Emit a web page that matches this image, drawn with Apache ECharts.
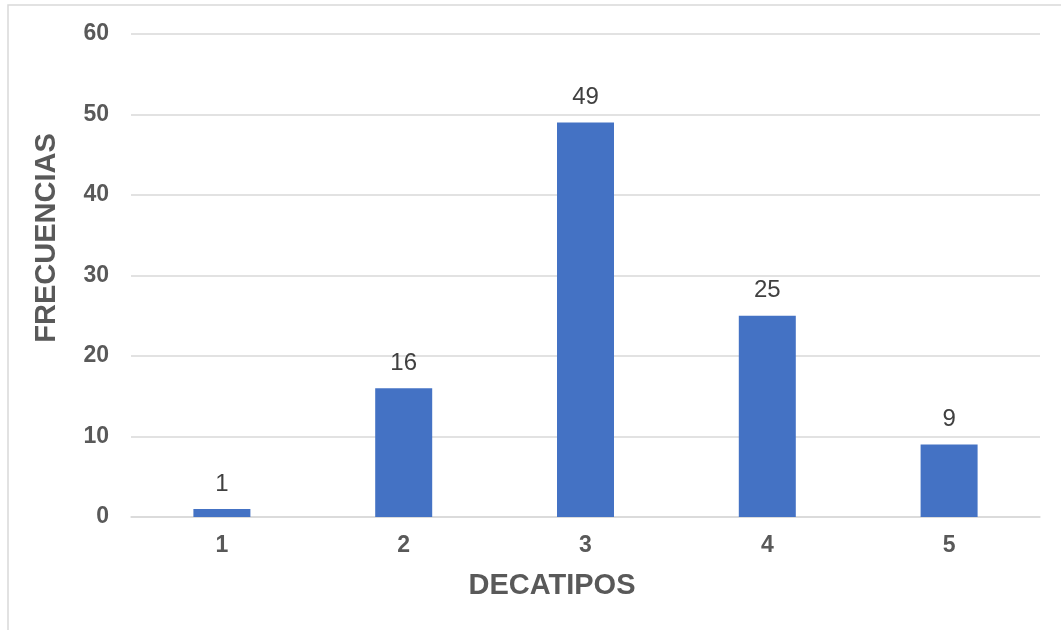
<!DOCTYPE html>
<html>
<head>
<meta charset="utf-8">
<script src="https://cdn.jsdelivr.net/npm/echarts@6/dist/echarts.min.js"></script>
<style>
html,body{margin:0;padding:0;background:#fff;}
#c{width:1061px;height:630px;}
</style>
</head>
<body>
<div id="c"></div>
<script>
const categories = ['1', '2', '3', '4', '5'];
const frequencies = [1, 16, 49, 25, 9];
const yTicks = [0, 10, 20, 30, 40, 50, 60];
const xTitle = 'DECATIPOS';
const yTitle = 'FRECUENCIAS';

const chart = echarts.init(document.getElementById('c'));
const font = '"Liberation Sans", Arial, sans-serif';
chart.setOption({
  animation: false,
  backgroundColor: '#fff',
  grid: { left: 131, right: 21, top: 34, bottom: 113, containLabel: false },
  xAxis: {
    type: 'category',
    data: categories,
    axisLine: { show: true, lineStyle: { color: '#d9d9d9', width: 1.5 } },
    axisTick: { show: false },
    axisLabel: { color: '#595959', fontWeight: 'bold', fontSize: 23, fontFamily: font, margin: 17 }
  },
  yAxis: {
    type: 'value',
    min: yTicks[0],
    max: yTicks[yTicks.length - 1],
    interval: 10,
    axisLine: { show: false },
    axisTick: { show: false },
    splitLine: { lineStyle: { color: '#d9d9d9', width: 1.5 } },
    axisLabel: { color: '#595959', fontWeight: 'bold', fontSize: 23, fontFamily: font, margin: 22 }
  },
  series: [{
    type: 'bar',
    data: frequencies,
    barWidth: 57,
    itemStyle: { color: '#4472C4' },
    label: { show: true, position: 'top', distance: 13, color: '#404040', fontSize: 24, fontFamily: font }
  }],
  graphic: [
    { type: 'rect', shape: { x: 8, y: 5, width: 1060, height: 640 }, style: { fill: 'none', stroke: '#d9d9d9', lineWidth: 1.5 }, silent: true, z: -1 },
    { type: 'text', x: 552, y: 586, style: { text: xTitle, fill: '#595959', font: 'bold 29px ' + font, textAlign: 'center', textVerticalAlign: 'middle' } },
    { type: 'text', x: 47, y: 238, rotation: Math.PI / 2, style: { text: yTitle, fill: '#595959', font: 'bold 29px ' + font, textAlign: 'center', textVerticalAlign: 'middle' } }
  ]
});
</script>
</body>
</html>
